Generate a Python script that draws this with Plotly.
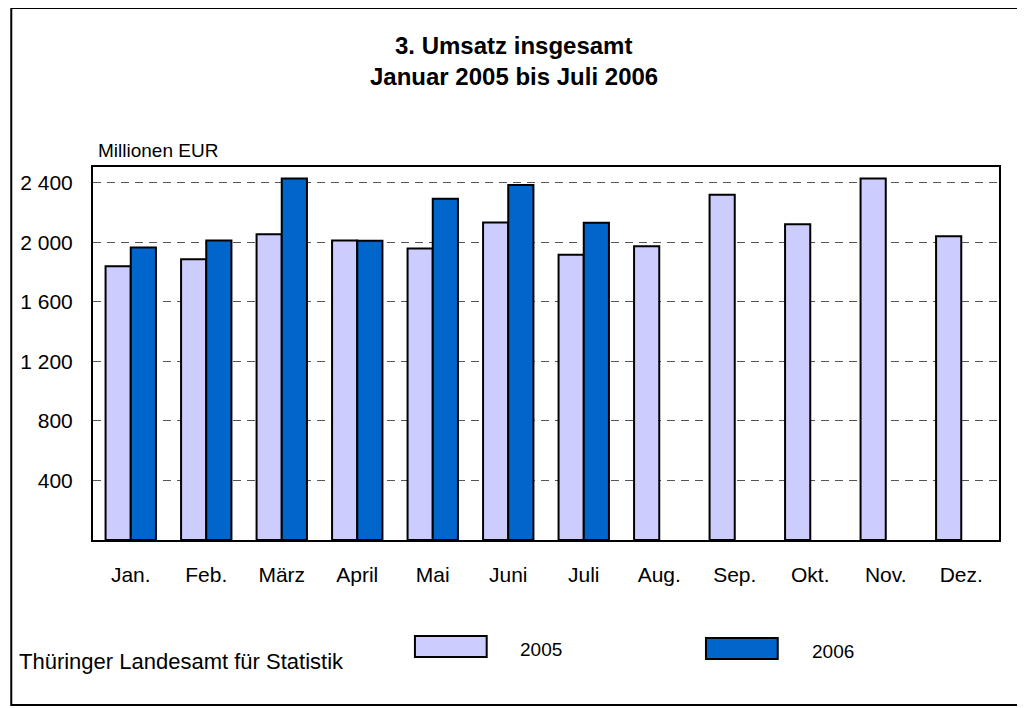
import plotly.graph_objects as go

months = ["Jan.", "Feb.", "März", "April", "Mai", "Juni", "Juli",
          "Aug.", "Sep.", "Okt.", "Nov.", "Dez."]
values_2005 = [1839, 1886, 2054, 2012, 1958, 2133, 1916, 1972, 2319, 2120, 2427, 2040]
values_2006 = [1965, 2012, 2427, 2010, 2292, 2384, 2131, None, None, None, None, None]
tick_vals = [400, 800, 1200, 1600, 2000, 2400]
tick_text = ["400", "800", "1 200", "1 600", "2 000", "2 400"]

C2005 = "#CCCCFF"
C2006 = "#0066CC"

# figure is placed at an 8px offset inside the page
W, H = 1017, 700
L, R, T, B = 82, 991, 159, 532


def px(x):
    return (x - L) / (R - L)


def py(y):
    return (B - y) / (B - T)


fig = go.Figure()
fig.add_trace(go.Bar(x=months, y=values_2005, name="2005",
                     marker=dict(color=C2005, line=dict(color="black", width=2))))
fig.add_trace(go.Bar(x=months, y=values_2006, name="2006",
                     marker=dict(color=C2006, line=dict(color="black", width=2))))

font = "Liberation Sans, Arial, sans-serif"

shapes = [
    # outer frame
    dict(type="rect", xref="paper", yref="paper",
         x0=px(0), x1=px(1013), y0=py(697), y1=py(0),
         line=dict(color="black", width=2), fillcolor="rgba(0,0,0,0)", layer="above"),
    # legend boxes
    dict(type="rect", xref="paper", yref="paper",
         x0=px(405), x1=px(477), y0=py(649), y1=py(628),
         line=dict(color="black", width=2), fillcolor=C2005),
    dict(type="rect", xref="paper", yref="paper",
         x0=px(697), x1=px(769), y0=py(651), y1=py(630),
         line=dict(color="black", width=2), fillcolor=C2006),
]

annotations = [
    dict(text="<b>3. Umsatz insgesamt</b>", xref="paper", yref="paper",
         x=px(504), y=py(37), showarrow=False, font=dict(size=24, family=font, color="black"),
         xanchor="center", yanchor="middle"),
    dict(text="<b>Januar 2005 bis Juli 2006</b>", xref="paper", yref="paper",
         x=px(504), y=py(68), showarrow=False, font=dict(size=24, family=font, color="black"),
         xanchor="center", yanchor="middle"),
    dict(text="Millionen EUR", xref="paper", yref="paper",
         x=px(85), y=py(142), showarrow=False, font=dict(size=19, family=font, color="black"),
         xanchor="left", yanchor="middle"),
    dict(text="Thüringer Landesamt für Statistik", xref="paper", yref="paper",
         x=px(6), y=py(653), showarrow=False, font=dict(size=22, family=font, color="black"),
         xanchor="left", yanchor="middle"),
    dict(text="2005", xref="paper", yref="paper",
         x=px(508), y=py(641), showarrow=False, font=dict(size=19, family=font, color="black"),
         xanchor="left", yanchor="middle"),
    dict(text="2006", xref="paper", yref="paper",
         x=px(801), y=py(643), showarrow=False, font=dict(size=19, family=font, color="black"),
         xanchor="left", yanchor="middle"),
]

fig.update_layout(
    width=W, height=H,
    margin=dict(l=L, r=W - R, t=T, b=H - B, pad=0),
    paper_bgcolor="white", plot_bgcolor="white",
    barmode="group", bargap=0.333, bargroupgap=0,
    showlegend=False,
    font=dict(family=font, size=21, color="black"),
    shapes=shapes, annotations=annotations,
)
fig.update_xaxes(showline=True, linecolor="black", linewidth=2, mirror=True,
                 ticks="", showgrid=False, ticklabelstandoff=15,
                 tickfont=dict(size=21, family=font, color="black"))
fig.update_yaxes(range=[0, 2505], showline=True, linecolor="black", linewidth=2, mirror=True,
                 tickvals=tick_vals, ticktext=tick_text, ticks="",
                 showgrid=True, gridcolor="#555555", gridwidth=1, griddash="8px,6px",
                 zeroline=False, ticklabelstandoff=14,
                 tickfont=dict(size=21, family=font, color="black"))

fig.write_html("out.html")
